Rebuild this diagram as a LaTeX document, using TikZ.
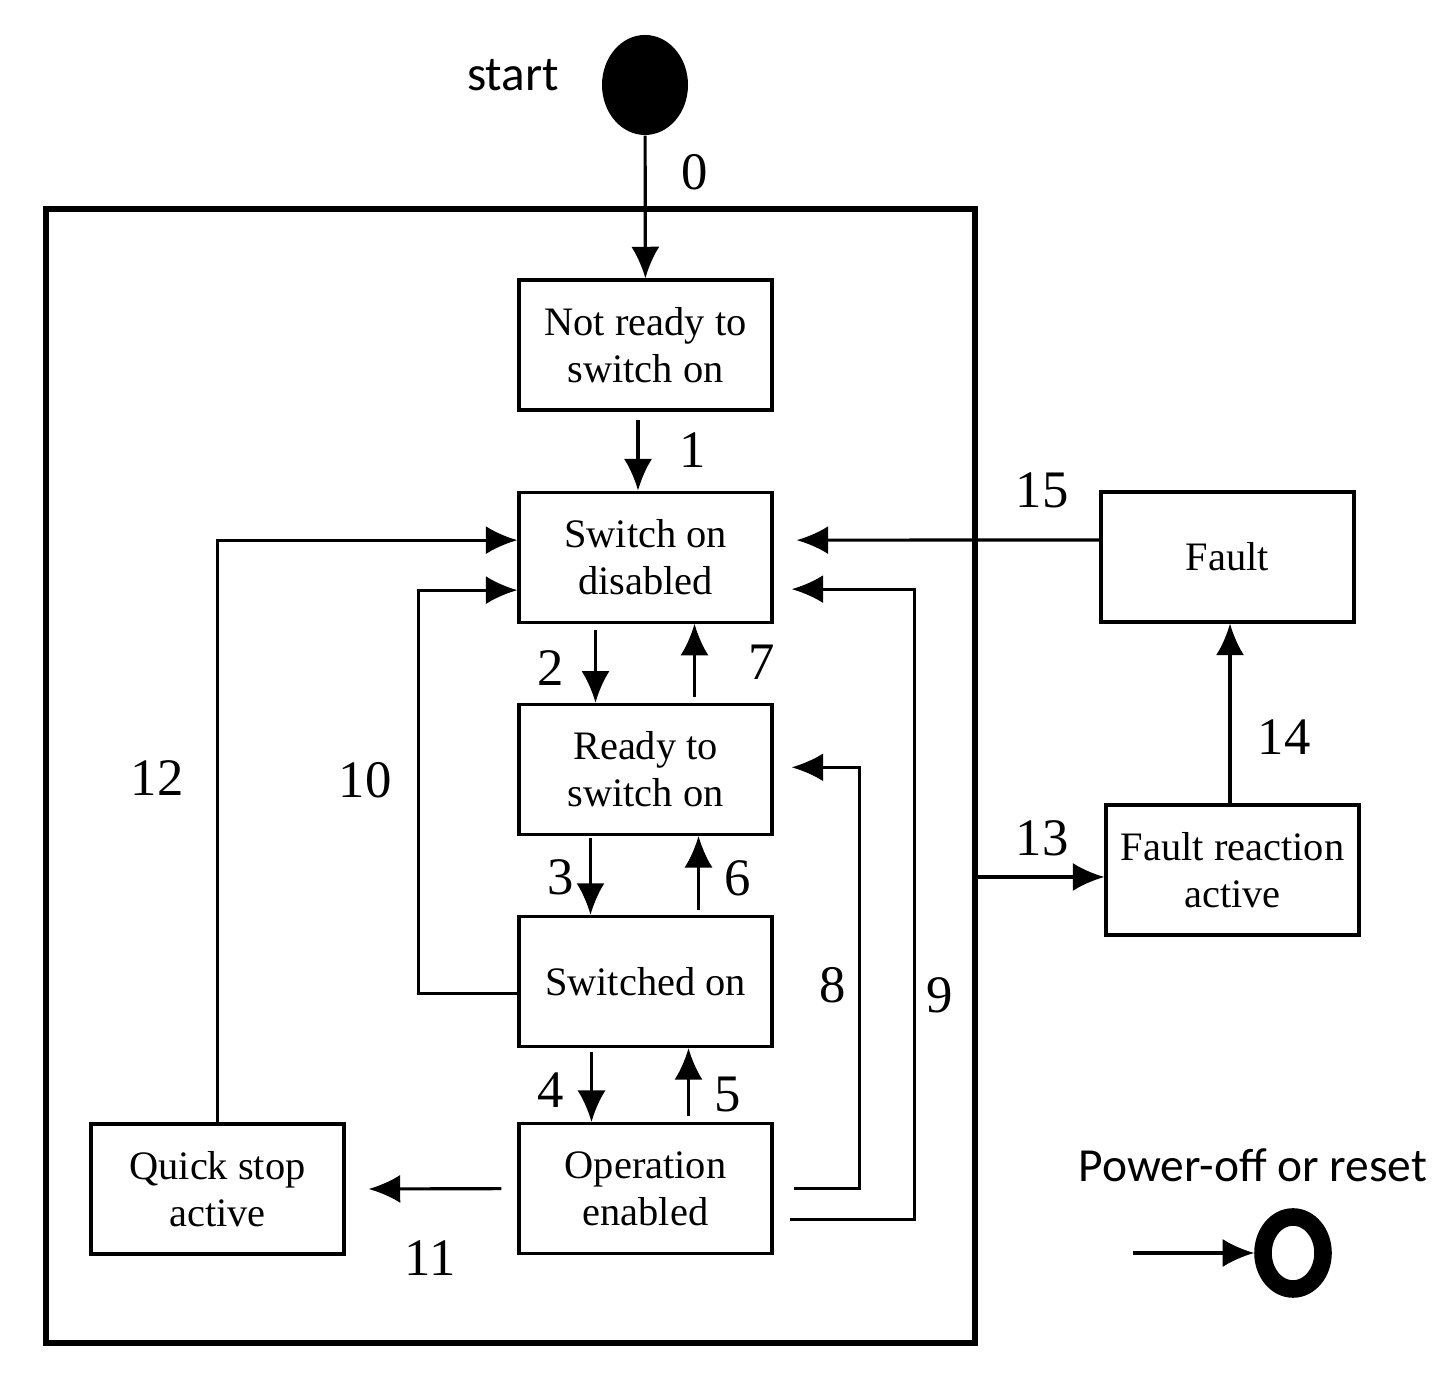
\documentclass[tikz,border=0pt]{standalone}
\usepackage{fontspec}
\setmainfont{Liberation Serif}
\newfontfamily\calfont{Carlito}
\usetikzlibrary{shapes,arrows.meta,positioning}

\begin{document}
\begin{tikzpicture}[
    node distance=0.79cm,
    state/.style={rectangle, draw, line width=0.9pt, minimum width=2.53cm, minimum height=1.30cm, align=center, font=\fontsize{11.5}{13.4}\selectfont},
    num/.style={font=\fontsize{15}{16}\selectfont},
    arrow/.style={-{Latex[length=9pt,width=8pt]}, line width=0.9pt}
]
\useasboundingbox (0,0) rectangle (14.47,13.78);

% Outer frame
\node[draw, line width=1.5pt, minimum width=9.29cm, minimum height=11.34cm] (frame) at (5.105,6.02) {};

% Start
\node[ellipse, fill=black, minimum width=0.86cm, minimum height=1.00cm, inner sep=0pt] (start) at (6.45,12.93) {};
\node[font=\calfont\fontsize{14}{15}\selectfont] (starttxt) at (5.13,13.03) {start};

% States
\node[state] (nrs) at (6.455,10.33) {Not ready to\\switch on};
\node[state, below=of nrs] (sod) {Switch on\\disabled};
\node[state, below=of sod] (rso) {Ready to\\switch on};
\node[state, below=of rso] (swo) {Switched on};
\node[state, below=0.74cm of swo] (ope) {Operation\\enabled};
\node[state] (qsa) at (2.175,1.89) {Quick stop\\active};
\node[state] (fault) at (12.275,8.21) {Fault};
\node[state] (fra) at (12.325,5.08) {Fault reaction\\active};

% End
\node[ellipse, draw, line width=5pt, minimum width=0.60cm, minimum height=0.72cm, inner sep=0pt] (endc) at (12.93,1.25) {};
\coordinate (endin) at (11.33,1.25);
\node[font=\calfont\fontsize{13.5}{15}\selectfont] (poff) at (12.53,2.13) {Power-off or reset};

% Arrows
\draw[arrow] (start) -- (nrs);
\draw[arrow, shorten <=0.08cm] ([xshift=-0.075cm]nrs.south) -- ([xshift=-0.075cm]sod.north);
\draw[arrow, shorten <=0.06cm] ([xshift=-0.5cm]sod.south) -- ([xshift=-0.5cm]rso.north);
\draw[arrow, shorten <=0.06cm] ([xshift=0.49cm]rso.north) -- ([xshift=0.49cm]sod.south);
\draw[arrow, shorten <=0.02cm] ([xshift=-0.55cm]rso.south) -- ([xshift=-0.55cm]swo.north);
\draw[arrow, shorten <=0.05cm] ([xshift=0.53cm]swo.north) -- ([xshift=0.53cm]rso.south);
\draw[arrow, shorten <=0.04cm] ([xshift=-0.54cm]swo.south) -- ([xshift=-0.54cm]ope.north);
\draw[arrow, shorten <=0.06cm] ([xshift=0.43cm]ope.north) -- ([xshift=0.43cm]swo.south);
\draw[arrow] ([xshift=0.20cm]ope.east) -- ++(0.66,0) |- ([xshift=0.18cm,yshift=0.02cm]rso.east);
\draw[arrow] ([xshift=0.16cm,yshift=-0.31cm]ope.east) -- ++(1.25,0) |- ([xshift=0.18cm,yshift=-0.32cm]sod.east);
\draw[arrow] ([yshift=-0.12cm]swo.west) -- ++(-0.99,0) |- ([yshift=-0.33cm]sod.west);
\draw[arrow] ([xshift=-0.16cm]ope.west) -- ([xshift=0.23cm]qsa.east);
\draw[arrow] (qsa.north) |- ([yshift=0.17cm]sod.west);
\draw[arrow] ([yshift=-0.07cm]fra.west -| frame.east) -- ([yshift=-0.07cm]fra.west);
\draw[arrow] (fra.north -| 12.30,0) -- (fault.south -| 12.30,0);
\draw[arrow] ([yshift=0.17cm]fault.west) -- ([xshift=0.23cm,yshift=0.17cm]sod.east);
\draw[arrow] (endin) -- (endc.west);

% Labels
\node[num] (l0) at (6.95,12.06) {0};
\node[num] (l1) at (6.93,9.28) {1};
\node[num] (l2) at (5.51,7.10) {2};
\node[num] (l7) at (7.62,7.16) {7};
\node[num] (l3) at (5.61,5.01) {3};
\node[num] (l6) at (7.38,5.00) {6};
\node[num] (l4) at (5.51,2.88) {4};
\node[num] (l5) at (7.28,2.83) {5};
\node[num] (l8) at (8.33,3.93) {8};
\node[num] (l9) at (9.40,3.83) {9};
\node[num] (l10) at (3.65,5.98) {10};
\node[num] (l12) at (1.57,6.00) {12};
\node[num] (l11) at (4.30,1.20) {11};
\node[num] (l15) at (10.42,8.88) {15};
\node[num] (l13) at (10.42,5.40) {13};
\node[num] (l14) at (12.84,6.41) {14};

\end{tikzpicture}
\end{document}
